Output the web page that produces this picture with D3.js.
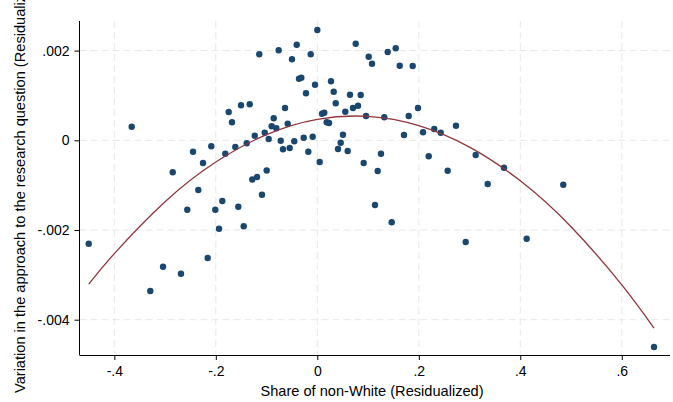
<!DOCTYPE html>
<html>
<head>
<meta charset="utf-8">
<script src="https://cdn.jsdelivr.net/npm/d3@7"></script>
<style>
  body { margin: 0; background: #fff; }
  svg { display: block; font-family: "Liberation Sans", Arial, sans-serif; }
  .grid line { stroke: #e8e8e8; stroke-width: 1; stroke-dasharray: 7,4; }
  .axis path, .axis line { stroke: #000; stroke-width: 1; }
  .axis text { font-size: 14px; fill: #000; }
</style>
</head>
<body>
<script>
// scatter points (residualized share non-White vs residualized variation)
let xs = [-0.1143, -0.3657, -0.1746, -0.1681, -0.1503, -0.1332, -0.1233, -0.1036, -0.2089, -0.2449,
          -0.2252, -0.1813, -0.1616, -0.1391, -0.0958, -0.2849, -0.1281, -0.1188, -0.0997, -0.2345,
          -0.1090, -0.2562, -0.2010, -0.1872, -0.1557, -0.1937, -0.1450, -0.4504, -0.2160, -0.3040,
          -0.2686, -0.3291, -0.0761, -0.0406, -0.0499, -0.0130, 0.0000, 0.0757, 0.1013, 0.1078,
          0.1387, 0.1545, 0.1624, 0.1880, -0.0361, -0.0315, -0.0223, -0.0045, 0.0270, 0.0323,
          0.0363, 0.0644, 0.0855, 0.0703, 0.0802, 0.0552, 0.0093, 0.0138, 0.0185, 0.0231,
          -0.0636, -0.0859, -0.0899, -0.0808, -0.0583, -0.0721, -0.0676, -0.0544, -0.0453, -0.0268,
          -0.0091, -0.0177, 0.0047, 0.0506, 0.0461, 0.0408, 0.0599, 0.0960, 0.1320, 0.1801,
          0.1984, 0.1708, 0.2083, 0.2305, 0.2432, 0.2733, 0.1255, 0.0914, 0.1190, 0.2195,
          0.2569, 0.3121, 0.3679, 0.1137, 0.1466, 0.3358, 0.4847, 0.2924, 0.4126, 0.6635];

let ys = [0.001917, 0.000303, 0.000631, 0.000401, 0.000780, 0.000803, 0.000103, 0.000169, -0.000134, -0.000254,
          -0.000506, -0.000299, -0.000149, -0.000067, 0.000029, -0.000713, -0.000874, -0.000818, -0.000673, -0.001108,
          -0.001213, -0.001547, -0.001547, -0.001353, -0.001480, -0.001971, -0.001918, -0.002305, -0.002624, -0.002818,
          -0.002974, -0.003360, 0.002007, 0.002132, 0.001806, 0.001917, 0.002459, 0.002154, 0.001864, 0.001708,
          0.001969, 0.002051, 0.001663, 0.001657, 0.001373, 0.001396, 0.001048, 0.001240, 0.001316, 0.001084,
          0.000825, 0.001017, 0.001010, 0.000720, 0.000771, 0.000638, 0.000593, 0.000615, 0.000401, 0.000386,
          0.000720, 0.000491, 0.000312, 0.000268, 0.000370, -0.000009, -0.000201, -0.000172, -0.000022, 0.000058,
          0.000080, -0.000254, -0.000484, 0.000125, -0.000054, -0.000194, -0.000239, 0.000542, 0.000513, 0.000542,
          0.000720, 0.000118, 0.000178, 0.000252, 0.000169, 0.000326, -0.000299, -0.000506, -0.000685, -0.000357,
          -0.000678, -0.000328, -0.000611, -0.001443, -0.001828, -0.000974, -0.000990, -0.002268, -0.002194, -0.004609];

// quadratic fit line
let fitX = [-0.4504, -0.4, -0.3, -0.2, -0.1, 0, 0.1, 0.2, 0.3, 0.4, 0.5, 0.6, 0.6635];
let fitY = [-0.003206, -0.002526, -0.001369, -0.000484, 0.000127, 0.000467, 0.000533, 0.000327, -0.000152, -0.000903, -0.001927, -0.003224, -0.004188];

let xTicks = [-0.4, -0.2, 0, 0.2, 0.4, 0.6];
let xTickLabels = ["-.4", "-.2", "0", ".2", ".4", ".6"];
let yTicks = [0.002, 0, -0.002, -0.004];
let yTickLabels = [".002", "0", "-.002", "-.004"];

let width = 673, height = 402;
let plotL = 79.5, plotR = 670, plotT = 21, plotB = 355;

let svg = d3.select("body").append("svg")
    .attr("width", width)
    .attr("height", height);

let x = d3.scaleLinear().domain([-0.4686, 0.695]).range([plotL, plotR]);
let y = d3.scaleLinear().domain([0.00266, -0.004787]).range([plotT, plotB]);

// grid
let grid = svg.append("g").attr("class", "grid");
grid.selectAll("line.h")
    .data(yTicks)
    .enter().append("line")
    .attr("class", "h")
    .attr("x1", plotL).attr("x2", plotR)
    .attr("y1", (d)=>y(d)).attr("y2", (d)=>y(d));
grid.selectAll("line.v")
    .data(xTicks)
    .enter().append("line")
    .attr("class", "v")
    .attr("x1", (d)=>x(d)).attr("x2", (d)=>x(d))
    .attr("y1", plotT).attr("y2", plotB);

// axes
let xAxis = d3.axisBottom(x)
    .tickValues(xTicks)
    .tickFormat((d, i)=>xTickLabels[i])
    .tickSize(5)
    .tickPadding(6)
    .tickSizeOuter(0);
let yAxis = d3.axisLeft(y)
    .tickValues(yTicks)
    .tickFormat((d, i)=>yTickLabels[i])
    .tickSize(5)
    .tickPadding(5)
    .tickSizeOuter(0);

let gx = svg.append("g")
    .attr("class", "axis")
    .attr("transform", "translate(0," + plotB + ")")
    .call(xAxis);
gx.select(".domain").attr("d", "M" + plotL + ",0.5H" + plotR);

let gy = svg.append("g")
    .attr("class", "axis")
    .attr("transform", "translate(" + plotL + ",0)")
    .call(yAxis);
gy.select(".domain").attr("d", "M0," + plotT + "V" + plotB);

// axis titles
svg.append("text")
    .attr("x", 372)
    .attr("y", 396)
    .attr("text-anchor", "middle")
    .attr("font-size", 14.6)
    .text("Share of non-White (Residualized)");

svg.append("text")
    .attr("transform", "translate(25,393) rotate(-90)")
    .attr("text-anchor", "start")
    .attr("font-size", 14.6)
    .text("Variation in the approach to the research question (Residualized)");

// points
let pts = xs.map((d, i)=>({x: d, y: ys[i]}));
svg.append("g")
    .selectAll("circle")
    .data(pts)
    .enter().append("circle")
    .attr("cx", (d)=>x(d.x))
    .attr("cy", (d)=>y(d.y))
    .attr("r", 3.2)
    .attr("fill", "#1a476f");

// fit line
let fit = fitX.map((d, i)=>({x: d, y: fitY[i]}));
let line = d3.line()
    .x((d)=>x(d.x))
    .y((d)=>y(d.y))
    .curve(d3.curveNatural);
svg.append("path")
    .datum(fit)
    .attr("fill", "none")
    .attr("stroke", "#90353b")
    .attr("stroke-width", 1.3)
    .attr("d", line);
</script>
</body>
</html>
